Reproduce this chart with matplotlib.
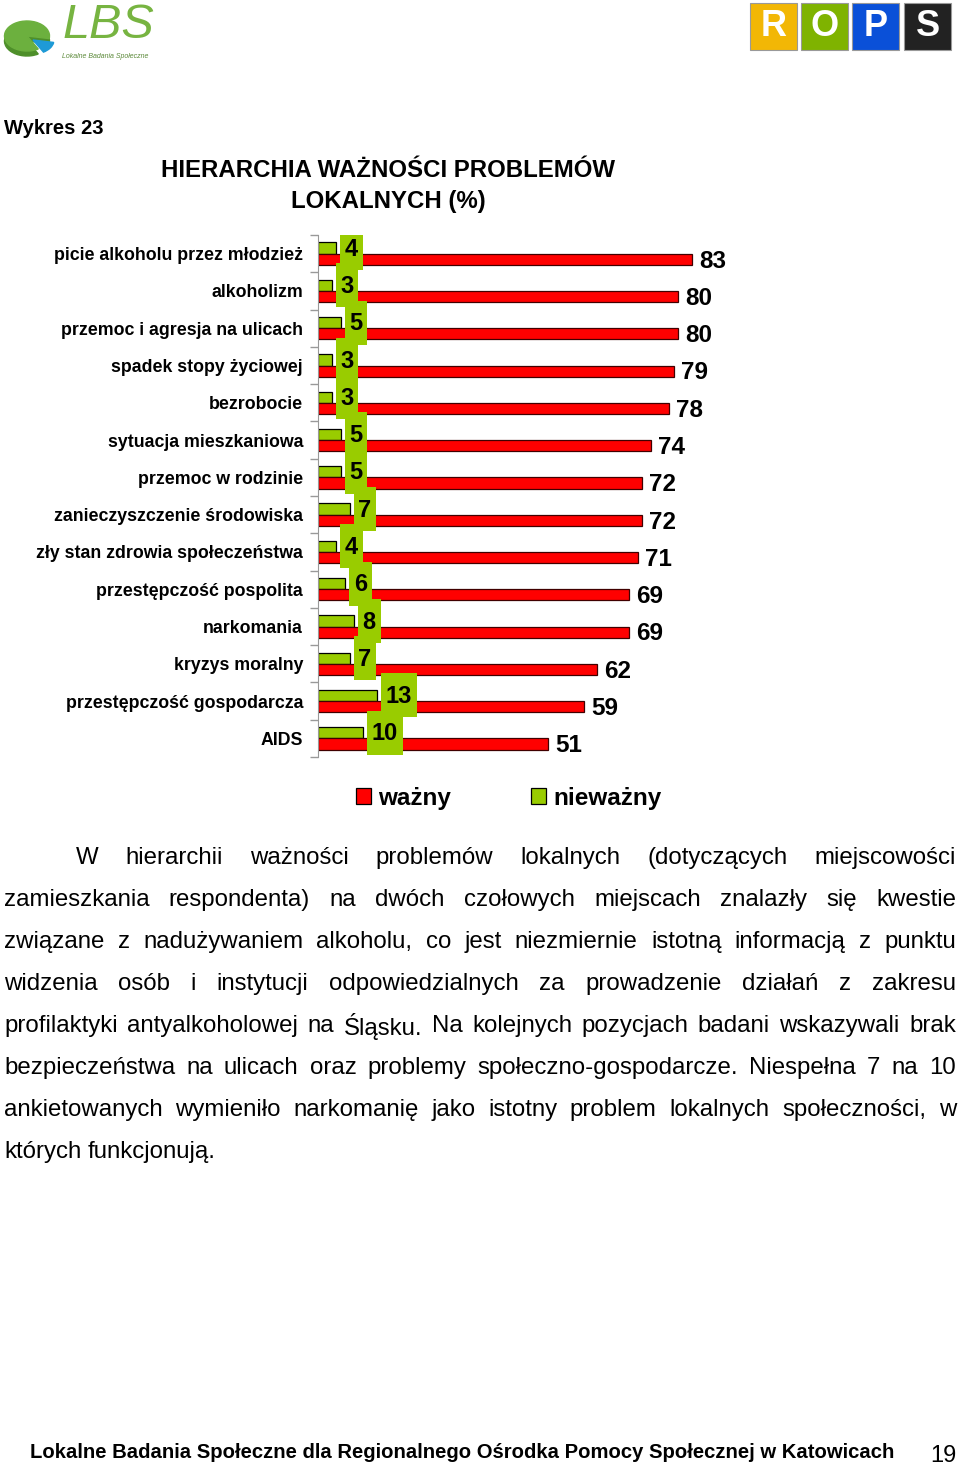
import matplotlib
matplotlib.use('Agg')
import matplotlib.pyplot as plt
from matplotlib.patches import Patch, Rectangle, Wedge

plt.rcParams['font.family'] = ['Liberation Sans', 'DejaVu Sans']

# --- data ---
categories = ['picie alkoholu przez młodzież', 'alkoholizm', 'przemoc i agresja na ulicach',
              'spadek stopy życiowej', 'bezrobocie', 'sytuacja mieszkaniowa', 'przemoc w rodzinie',
              'zanieczyszczenie środowiska', 'zły stan zdrowia społeczeństwa', 'przestępczość pospolita',
              'narkomania', 'kryzys moralny', 'przestępczość gospodarcza', 'AIDS']
wazny = [83, 80, 80, 79, 78, 74, 72, 72, 71, 69, 69, 62, 59, 51]
niewazny = [4, 3, 5, 3, 3, 5, 5, 7, 4, 6, 8, 7, 13, 10]

title = 'HIERARCHIA WAŻNOŚCI PROBLEMÓW\nLOKALNYCH (%)'
paragraph = [
    'W hierarchii ważności problemów lokalnych (dotyczących miejscowości',
    'zamieszkania respondenta) na dwóch czołowych miejscach znalazły się kwestie',
    'związane z nadużywaniem alkoholu, co jest niezmiernie istotną informacją z punktu',
    'widzenia osób i instytucji odpowiedzialnych za prowadzenie działań z zakresu',
    'profilaktyki antyalkoholowej na Śląsku. Na kolejnych pozycjach badani wskazywali brak',
    'bezpieczeństwa na ulicach oraz problemy społeczno-gospodarcze. Niespełna 7 na 10',
    'ankietowanych wymieniło narkomanię jako istotny problem lokalnych społeczności, w',
    'których funkcjonują.',
]
footer = 'Lokalne Badania Społeczne dla Regionalnego Ośrodka Pomocy Społecznej w Katowicach'
page_no = '19'

RED = '#FF0000'
GREEN = '#99CC00'
W, H = 960, 1465


def fx(x):
    return x / W


def fy(y):
    return 1 - y / H


fig = plt.figure(figsize=(W / 100, H / 100), dpi=100)

# --- logos ---
# LBS pie icon in a small pixel-unit axes, y stretched so circles come out flat
lg = fig.add_axes([0, fy(65), 160 / W, 65 / H])
lg.set_xlim(0, 160)
lg.set_ylim(0, 65 * 1.5)
lg.axis('off')
lg.add_patch(Wedge((27, (65 - 41) * 1.5), 22.5, -10, 300, color='#4E8F2A'))
lg.add_patch(Wedge((27, (65 - 36) * 1.5), 22.5, -10, 300, color='#6CB03E'))
lg.add_patch(Wedge((33, (65 - 40) * 1.5), 21, -60, -10, color='#1E9AD6'))
fig.text(fx(62), fy(25), 'LBS', fontsize=35, style='italic', color='#77B441', va='center')
fig.text(fx(62), fy(56), 'Lokalne Badania Społeczne', fontsize=5, style='italic',
         color='#5c8a3a', va='center')
rops = [('R', '#F2B705', 750), ('O', '#7FB300', 801), ('P', '#0A50D8', 852), ('S', '#222222', 904)]
for letter, col, x in rops:
    fig.patches.append(Rectangle((fx(x), fy(50)), 47 / W, 47 / H, transform=fig.transFigure,
                                 facecolor=col, edgecolor='#999999', lw=0.8))
    fig.text(fx(x + 23.5), fy(27), letter, fontsize=26, weight='bold', color='white',
             ha='center', va='center')

fig.text(fx(4), fy(128), 'Wykres 23', fontsize=14.5, weight='bold', va='center')
fig.text(fx(388), fy(186), title, fontsize=17.3, weight='bold', ha='center', va='center',
         linespacing=1.4)

# --- chart ---
ax_left, ax_top, ax_bottom = 318, 235, 757
xmax = 100
px_per_unit = 4.506
ax = fig.add_axes([fx(ax_left), fy(ax_bottom), xmax * px_per_unit / W, (ax_bottom - ax_top) / H])
n = len(categories)
pos = list(range(n))
bh = 0.3
ax.barh([p - bh / 2 for p in pos], niewazny, height=bh, color=GREEN, edgecolor='black', lw=0.9,
        label='nieważny', zorder=2)
ax.barh([p + bh / 2 for p in pos], wazny, height=bh, color=RED, edgecolor='#400000', lw=0.9,
        label='ważny', zorder=2)
ax.set_xlim(0, xmax)
ax.set_ylim(n - 0.5, -0.5)
ax.set_xticks([])
ax.set_yticks(pos, categories, fontsize=12.8, weight='bold')
ax.tick_params(axis='y', which='major', length=0, pad=10.8)
ax.set_yticks([p - 0.5 for p in range(n + 1)], minor=True)
ax.tick_params(axis='y', which='minor', length=6, color='#999999', width=1)
for s in ['top', 'right', 'bottom']:
    ax.spines[s].set_visible(False)
ax.spines['left'].set_color('#999999')

box_h = 1.18
for p, v in zip(pos, niewazny):
    lab = str(v)
    wpx = 9 + 13.5 * len(lab)
    x0 = v + 4 / px_per_unit
    ax.add_patch(Rectangle((x0, p - bh / 2 - box_h / 2), wpx / px_per_unit, box_h,
                           facecolor=GREEN, edgecolor='none', zorder=3))
    ax.text(x0 + wpx / px_per_unit / 2, p - bh / 2 + 0.03, lab, fontsize=17, weight='bold',
            ha='center', va='center', zorder=4)
for p, v in zip(pos, wazny):
    ax.text(v + 7 / px_per_unit, p + bh / 2 + 0.05, str(v), fontsize=17.5, weight='bold',
            ha='left', va='center', zorder=4)

handles = [Patch(facecolor=RED, edgecolor='black', lw=0.9, label='ważny'),
           Patch(facecolor=GREEN, edgecolor='black', lw=0.9, label='nieważny')]
fig.legend(handles=handles, loc='center', bbox_to_anchor=(fx(509), fy(798)), ncol=2,
           frameon=False, prop={'size': 17.5, 'weight': 'bold'}, handlelength=0.6,
           handleheight=0.6, handletextpad=0.3, columnspacing=3.3)

# --- justified paragraph ---
fs_par = 17.3
fig.canvas.draw()
renderer = fig.canvas.get_renderer()
x_right = 956
for i, line in enumerate(paragraph):
    y = fy(858 + 42 * i)
    words = line.split(' ')
    start = 76 if i == 0 else 4
    texts = [fig.text(0, y, w_, fontsize=fs_par, va='center') for w_ in words]
    widths = [t.get_window_extent(renderer).width for t in texts]
    last = i == len(paragraph) - 1
    if last or len(words) == 1:
        gap = 6
    else:
        gap = (x_right - start - sum(widths)) / (len(words) - 1)
    x = start
    for t, wd in zip(texts, widths):
        t.set_x(fx(x))
        x += wd + gap

fig.text(fx(30), fy(1453), footer, fontsize=14.55, weight='bold', va='center')
fig.text(fx(956), fy(1456), page_no, fontsize=17, ha='right', va='center')

fig.savefig('out.png', dpi=100)
